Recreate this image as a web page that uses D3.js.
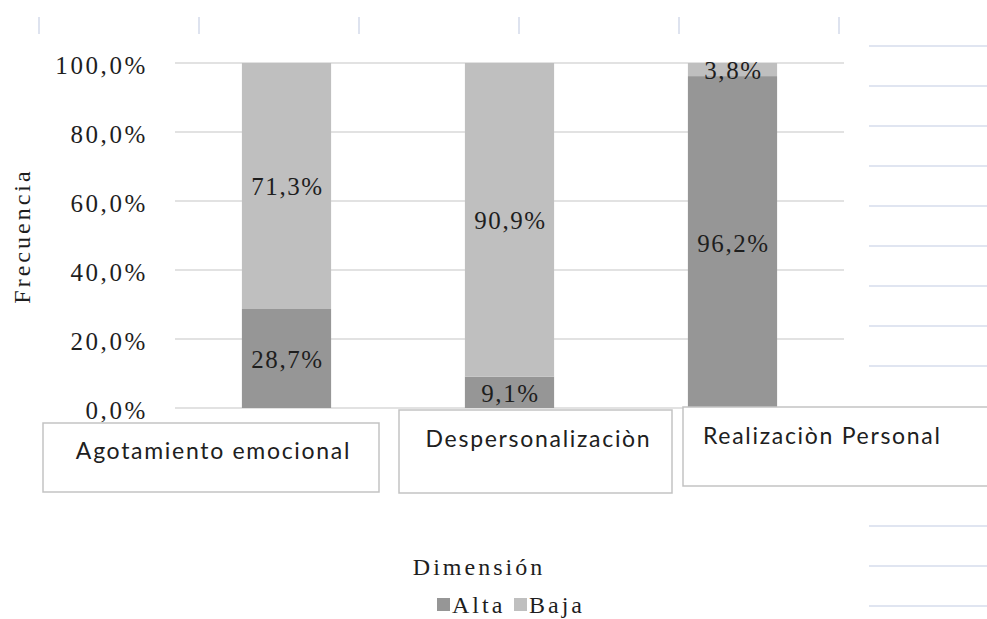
<!DOCTYPE html>
<html>
<head>
<meta charset="utf-8">
<script src="https://cdn.jsdelivr.net/npm/d3@7"></script>
<style>
  html, body { margin: 0; padding: 0; background: #ffffff; }
  svg { display: block; }
</style>
</head>
<body>
<svg id="chart" width="987" height="619"></svg>
<script>
// Burnout dimensions: share of respondents at a high or low level
const categories = ["Agotamiento emocional", "Despersonalizaciòn", "Realizaciòn Personal"];
const alta = [28.7, 9.1, 96.2];
const baja = [71.3, 90.9, 3.8];
const yTicks = [0, 20, 40, 60, 80, 100];
const seriesNames = ["Alta", "Baja"];
const seriesColors = ["#969696", "#bfbfbf"];

const svg = d3.select("#chart");
const serif = "'Liberation Serif', 'Times New Roman', serif";
const sans = "Lato, 'Open Sans', sans-serif";

const plot = { left: 175, right: 844, top: 63, bottom: 408 };

const x = d3.scaleBand()
  .domain(categories)
  .range([plot.left, plot.right])
  .paddingInner(0.6)
  .paddingOuter(0.3);

const y = d3.scaleLinear()
  .domain([0, 100])
  .range([plot.bottom, plot.top]);

const fmt = v => d3.format(".1f")(v).replace(".", ",") + "%";

// decorative page rules on the right and ticks along the top
const ruleY = [46, 86, 126, 166, 206, 246, 286, 326, 366, 526, 566, 606];
svg.append("g").selectAll("line").data(ruleY).join("line")
  .attr("x1", 869).attr("x2", 987)
  .attr("y1", d => d).attr("y2", d => d)
  .attr("stroke", "#d6dcec").attr("stroke-width", 1.5);

const topTicks = d3.range(6).map(i => 39 + i * 160);
svg.append("g").selectAll("line").data(topTicks).join("line")
  .attr("x1", d => d).attr("x2", d => d)
  .attr("y1", 17).attr("y2", 34)
  .attr("stroke", "#d3daea").attr("stroke-width", 1.5);

// horizontal gridlines
svg.append("g").selectAll("line").data(yTicks).join("line")
  .attr("x1", plot.left).attr("x2", plot.right)
  .attr("y1", d => y(d)).attr("y2", d => y(d))
  .attr("stroke", "#d9d9d9").attr("stroke-width", 1.5);

// y axis labels
const yAxis = d3.axisLeft(y).tickValues(yTicks).tickFormat(fmt).tickSize(0).tickPadding(0);
const yg = svg.append("g").attr("transform", "translate(148,0)").call(yAxis);
yg.select(".domain").remove();
yg.selectAll("text")
  .attr("font-family", serif).attr("font-size", 25)
  .attr("letter-spacing", 2.6)
  .attr("fill", "#1e1e1e")
  .attr("dy", "0.42em");

// stacked bars
const stacked = categories.map((c, i) => ({ cat: c, alta: alta[i], baja: baja[i] }));
const stack = d3.stack().keys(["alta", "baja"])(stacked);

const layers = svg.append("g").selectAll("g").data(stack).join("g")
  .attr("fill", (d, i) => seriesColors[i]);

layers.selectAll("rect").data(d => d).join("rect")
  .attr("x", d => x(d.data.cat))
  .attr("width", x.bandwidth())
  .attr("y", d => y(d[1]))
  .attr("height", d => y(d[0]) - y(d[1]));

// value labels centred in each segment
layers.selectAll("text").data(d => d.map(s => ({ s, key: d.key }))).join("text")
  .attr("x", d => x(d.s.data.cat) + x.bandwidth() / 2 + 1)
  .attr("y", d => (y(d.s[0]) + y(d.s[1])) / 2)
  .attr("dy", "0.38em")
  .attr("text-anchor", "middle")
  .attr("font-family", serif).attr("font-size", 25)
  .attr("letter-spacing", 1.6)
  .attr("fill", "#1e1e1e")
  .text(d => fmt(d.s.data[d.key]));

// category label boxes
const boxes = [
  { x0: 43, y0: 423, x1: 379, y1: 492, ty: 459 },
  { x0: 399, y0: 410, x1: 672, y1: 493, ty: 447 },
  { x0: 683, y0: 407, x1: 995, y1: 486, ty: 444 }
];
const bg = svg.append("g");
categories.forEach((c, i) => {
  const b = boxes[i];
  bg.append("rect")
    .attr("x", b.x0).attr("y", b.y0)
    .attr("width", b.x1 - b.x0).attr("height", b.y1 - b.y0)
    .attr("fill", "#ffffff")
    .attr("stroke", "#c3c3c3").attr("stroke-width", 1.5);
  const t = bg.append("text")
    .attr("y", b.ty)
    .attr("font-family", sans).attr("font-size", 23)
    .attr("letter-spacing", 1.7)
    .attr("fill", "#202020")
    .text(c);
  if (i === 2) t.attr("x", 703);
  else t.attr("x", x(c) + x.bandwidth() / 2 + (i === 0 ? -73 : 29)).attr("text-anchor", "middle");
});

// axis titles
svg.append("text")
  .attr("transform", "translate(30,236) rotate(-90)")
  .attr("text-anchor", "middle")
  .attr("font-family", serif).attr("font-size", 24)
  .attr("letter-spacing", 3)
  .attr("fill", "#1e1e1e")
  .text("Frecuencia");

svg.append("text")
  .attr("x", 479).attr("y", 575)
  .attr("text-anchor", "middle")
  .attr("font-family", serif).attr("font-size", 24)
  .attr("letter-spacing", 3)
  .attr("fill", "#1e1e1e")
  .text("Dimensión");

// legend
const legendX = [437, 514];
const lg = svg.append("g");
seriesNames.forEach((n, i) => {
  lg.append("rect")
    .attr("x", legendX[i]).attr("y", 598)
    .attr("width", 13).attr("height", 13)
    .attr("fill", seriesColors[i]);
  lg.append("text")
    .attr("x", legendX[i] + 15).attr("y", 613)
    .attr("font-family", serif).attr("font-size", 24)
    .attr("letter-spacing", 3)
    .attr("fill", "#1e1e1e")
    .text(n);
});
</script>
</body>
</html>
